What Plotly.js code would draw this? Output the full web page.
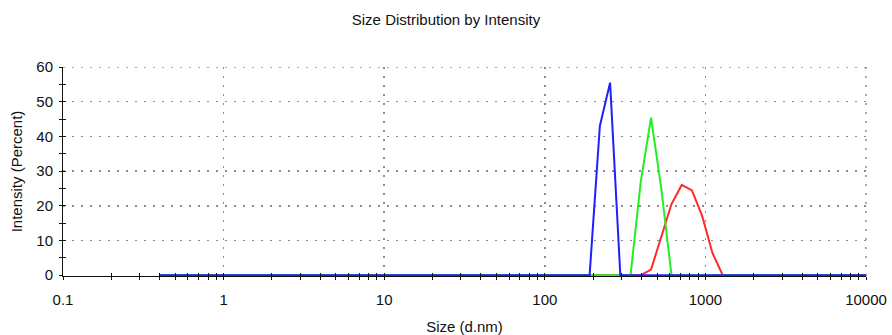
<!DOCTYPE html>
<html>
<head>
<meta charset="utf-8">
<script src="https://cdn.plot.ly/plotly-3.0.1.min.js"></script>
<style>
  html, body { margin: 0; padding: 0; background: #ffffff; }
  #chart { width: 892px; height: 335px; }
</style>
</head>
<body>
<div id="chart"></div>
<script>
// Size classes (d.nm) of the distribution, 0.4 to 10000 nm
const sizeClasses = [
  0.4, 0.4632, 0.5365, 0.6213, 0.7195, 0.8332, 0.9649, 1.117, 1.294, 1.499,
  1.736, 2.01, 2.328, 2.696, 3.122, 3.615, 4.187, 4.849, 5.615, 6.503,
  7.531, 8.721, 10.1, 11.7, 13.54, 15.69, 18.17, 21.04, 24.36, 28.21,
  32.67, 37.84, 43.82, 50.75, 58.77, 68.06, 78.82, 91.28, 105.7, 122.4,
  141.8, 164.2, 190.1, 220.2, 255, 295.3, 342, 396.1, 458.7, 531.2,
  615.1, 712.4, 825, 955.4, 1106, 1281, 1484, 1718, 1990, 2305,
  2669, 3091, 3580, 4145, 4801, 5560, 6439, 7456, 8635, 10000
];

// Intensity (%) per size class for each measurement
const intensityRed = [
  0, 0, 0, 0, 0, 0, 0, 0, 0, 0,
  0, 0, 0, 0, 0, 0, 0, 0, 0, 0,
  0, 0, 0, 0, 0, 0, 0, 0, 0, 0,
  0, 0, 0, 0, 0, 0, 0, 0, 0, 0,
  0, 0, 0, 0, 0, 0, 0, 0, 1.6, 11,
  20.5, 26, 24.4, 17, 6.4, 0, 0, 0, 0, 0,
  0, 0, 0, 0, 0, 0, 0, 0, 0, 0
];
const intensityGreen = [
  0, 0, 0, 0, 0, 0, 0, 0, 0, 0,
  0, 0, 0, 0, 0, 0, 0, 0, 0, 0,
  0, 0, 0, 0, 0, 0, 0, 0, 0, 0,
  0, 0, 0, 0, 0, 0, 0, 0, 0, 0,
  0, 0, 0, 0, 0, 0, 0, 27, 45.4, 25,
  0, 0, 0, 0, 0, 0, 0, 0, 0, 0,
  0, 0, 0, 0, 0, 0, 0, 0, 0, 0
];
const intensityBlue = [
  0, 0, 0, 0, 0, 0, 0, 0, 0, 0,
  0, 0, 0, 0, 0, 0, 0, 0, 0, 0,
  0, 0, 0, 0, 0, 0, 0, 0, 0, 0,
  0, 0, 0, 0, 0, 0, 0, 0, 0, 0,
  0, 0, 0, 43, 55.5, 0, 0, 0, 0, 0,
  0, 0, 0, 0, 0, 0, 0, 0, 0, 0,
  0, 0, 0, 0, 0, 0, 0, 0, 0, 0
];

// Axis ticks
const xTickValues = [0.1, 1, 10, 100, 1000, 10000];
const xTickLabels = ['0.1', '1', '10', '100', '1000', '10000'];
const yTickValues = [0, 10, 20, 30, 40, 50, 60];
const yTickLabels = ['0', '10', '20', '30', '40', '50', '60'];
const yMinorTicks = [5, 15, 25, 35, 45, 55];

// minor log ticks at 2..9 of every decade
const xMinorTicks = [];
for (let d = 0; d < xTickValues.length - 1; d++) {
  for (let m = 2; m <= 9; m++) xMinorTicks.push(+(xTickValues[d] * m).toPrecision(6));
}

const FONT = 'Liberation Sans, Arial, sans-serif';
const INK = '#111111';
const GRID = '#8c8c8c';

function curve(values, color) {
  return {
    type: 'scatter',
    mode: 'lines',
    x: sizeClasses,
    y: values,
    line: { color: color, width: 2 },
    hoverinfo: 'x+y',
    showlegend: false
  };
}

const traces = [
  curve(intensityRed, '#ff2a2a'),
  curve(intensityGreen, '#22ee22'),
  curve(intensityBlue, '#2020ff'),
  // empty traces so the companion tick axes get drawn
  { type: 'scatter', mode: 'lines', x: [], y: [], xaxis: 'x2', yaxis: 'y', showlegend: false, hoverinfo: 'skip' },
  { type: 'scatter', mode: 'lines', x: [], y: [], xaxis: 'x', yaxis: 'y2', showlegend: false, hoverinfo: 'skip' }
];

const gridDots = '2px,7px';
const yRange = [-0.25, 60];

const layout = {
  width: 892,
  height: 335,
  margin: { l: 63, r: 26, t: 67, b: 59 },
  paper_bgcolor: '#ffffff',
  plot_bgcolor: '#ffffff',
  font: { family: FONT, size: 15, color: INK },
  title: {
    text: 'Size Distribution by Intensity',
    font: { family: FONT, size: 15, color: INK },
    x: 0.5, xanchor: 'center',
    y: 1 - 20 / 335, yref: 'container', yanchor: 'middle'
  },
  xaxis: {
    type: 'log',
    range: [-1, 4],
    tickmode: 'array',
    tickvals: xTickValues,
    ticktext: xTickLabels,
    ticks: 'outside', ticklen: 3, tickwidth: 1, tickcolor: INK,
    ticklabelstandoff: 7,
    minor: { tickmode: 'array', tickvals: xMinorTicks, ticks: 'outside', ticklen: 3, tickwidth: 1, tickcolor: INK, showgrid: false },
    showline: true, linecolor: INK, linewidth: 1,
    showgrid: true, gridcolor: GRID, gridwidth: 1.5, griddash: gridDots,
    zeroline: false,
    tickfont: { family: FONT, size: 15, color: INK },
    title: { text: 'Size (d.nm)', font: { family: FONT, size: 15, color: INK }, standoff: 14 },
    fixedrange: true
  },
  yaxis: {
    range: yRange,
    tickmode: 'array',
    tickvals: yTickValues,
    ticktext: yTickLabels,
    ticks: 'outside', ticklen: 3, tickwidth: 1, tickcolor: INK,
    ticklabelstandoff: 3,
    minor: { tickmode: 'array', tickvals: yMinorTicks, ticks: 'outside', ticklen: 3, tickwidth: 1, tickcolor: INK, showgrid: false },
    showline: true, linecolor: INK, linewidth: 1,
    showgrid: true, gridcolor: GRID, gridwidth: 1.5, griddash: gridDots,
    zeroline: false,
    tickfont: { family: FONT, size: 15, color: INK },
    title: { text: 'Intensity (Percent)', font: { family: FONT, size: 15, color: INK }, standoff: 10 },
    fixedrange: true
  },
  // companion axes carrying the inner half of the tick marks
  xaxis2: {
    type: 'log', range: [-1, 4], overlaying: 'x', anchor: 'y', side: 'bottom',
    tickmode: 'array', tickvals: xTickValues,
    ticks: 'inside', ticklen: 3, tickwidth: 1, tickcolor: INK,
    minor: { tickmode: 'array', tickvals: xMinorTicks, ticks: 'inside', ticklen: 3, tickwidth: 1, tickcolor: INK, showgrid: false },
    showticklabels: false, showgrid: false, showline: false, zeroline: false, fixedrange: true
  },
  yaxis2: {
    range: yRange, overlaying: 'y', anchor: 'x', side: 'left',
    tickmode: 'array', tickvals: yTickValues,
    ticks: 'inside', ticklen: 3, tickwidth: 1, tickcolor: INK,
    minor: { tickmode: 'array', tickvals: yMinorTicks, ticks: 'inside', ticklen: 3, tickwidth: 1, tickcolor: INK, showgrid: false },
    showticklabels: false, showgrid: false, showline: false, zeroline: false, fixedrange: true
  },
  // dotted grid lines along the top and right edges of the plot area
  shapes: [
    { type: 'line', xref: 'paper', x0: 0, x1: 1, yref: 'y', y0: yTickValues[yTickValues.length - 1], y1: yTickValues[yTickValues.length - 1],
      line: { color: GRID, width: 1.5, dash: gridDots }, layer: 'below' },
    { type: 'line', xref: 'paper', x0: 1, x1: 1, yref: 'paper', y0: 0, y1: 1,
      line: { color: GRID, width: 1.5, dash: gridDots }, layer: 'below' }
  ],
  showlegend: false
};

Plotly.newPlot('chart', traces, layout, { displayModeBar: false, staticPlot: true });
</script>
</body>
</html>
